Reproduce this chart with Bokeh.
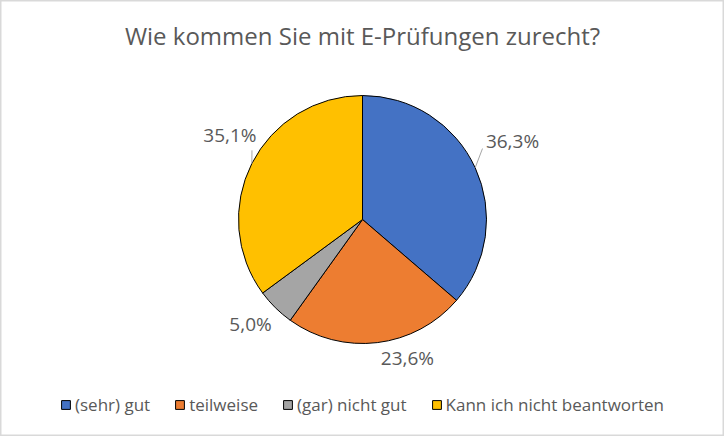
import math
from bokeh.plotting import figure
from bokeh.models import Range1d, Legend, LegendItem
from bokeh.embed import file_html
from bokeh.resources import INLINE
from bokeh.core.properties import value

# ---- data ----
title = "Wie kommen Sie mit E-Prüfungen zurecht?"
categories = ["(sehr) gut", "teilweise", "(gar) nicht gut", "Kann ich nicht beantworten"]
shares = [36.3, 23.6, 5.0, 35.1]
colors = ["#4472C4", "#ED7D31", "#A5A5A5", "#FFC000"]

# ---- layout / style ----
W, H = 724, 436
CX, CY, R = 362, 217, 124
FONT = "Open Sans"
TXT = "#595959"
label_angle_shift = [-3.1, -11.1, 2.2, 5.6]     # degrees
label_radius = [169.5, 146, 153.5, 157]
leader_end_offset = [(-30, -8), None, None, (22, -15)]

p = figure(width=W, height=H, x_range=Range1d(0, W), y_range=Range1d(0, H),
           output_backend="svg", toolbar_location=None, min_border=0)
p.axis.visible = False
p.grid.visible = False
p.outline_line_color = "#d9d9d9"
p.outline_line_width = 2
p.background_fill_color = "white"
p.border_fill_color = "white"

total = sum(shares)
cum = 0.0
items = []
lx, ly, ltxt = [], [], []
for i, v in enumerate(shares):
    t0 = cum / total * 2 * math.pi
    cum += v
    t1 = cum / total * 2 * math.pi
    r = p.wedge(x=CX, y=CY, radius=R, start_angle=math.pi / 2 - t0, end_angle=math.pi / 2 - t1,
                direction="clock", fill_color=colors[i], line_color="black", line_width=1)
    items.append(LegendItem(label=categories[i], renderers=[r]))
    tm = (t0 + t1) / 2
    ta = tm + math.radians(label_angle_shift[i])
    x = CX + label_radius[i] * math.sin(ta)
    y = CY + label_radius[i] * math.cos(ta)
    lx.append(x); ly.append(y)
    ltxt.append(f"{v:.1f}".replace(".", ",") + "%")
    if leader_end_offset[i] is not None:
        sx = CX + R * math.sin(tm)
        sy = CY + R * math.cos(tm)
        ex = x + leader_end_offset[i][0]
        ey = y + leader_end_offset[i][1]
        p.line([sx, ex], [sy, ey], line_color="#a6a6a6", line_width=1)

p.text(x=lx, y=ly, text=ltxt, text_align="center", text_baseline="middle",
       text_font=value(FONT), text_font_size="19px", text_color=TXT)

p.text(x=[W / 2], y=[H - 35], text=[title], text_align="center", text_baseline="alphabetic",
       text_font=value(FONT), text_font_size="24px", text_color=TXT)

legend = Legend(items=items, orientation="horizontal", location="bottom_center",
                glyph_width=11, glyph_height=11, label_standoff=4, spacing=24,
                padding=0, margin=20, border_line_color=None, background_fill_alpha=0,
                label_text_font=FONT, label_text_font_size="17px", label_text_color=TXT)
p.add_layout(legend)

open("out.html", "w").write(file_html(p, INLINE))
